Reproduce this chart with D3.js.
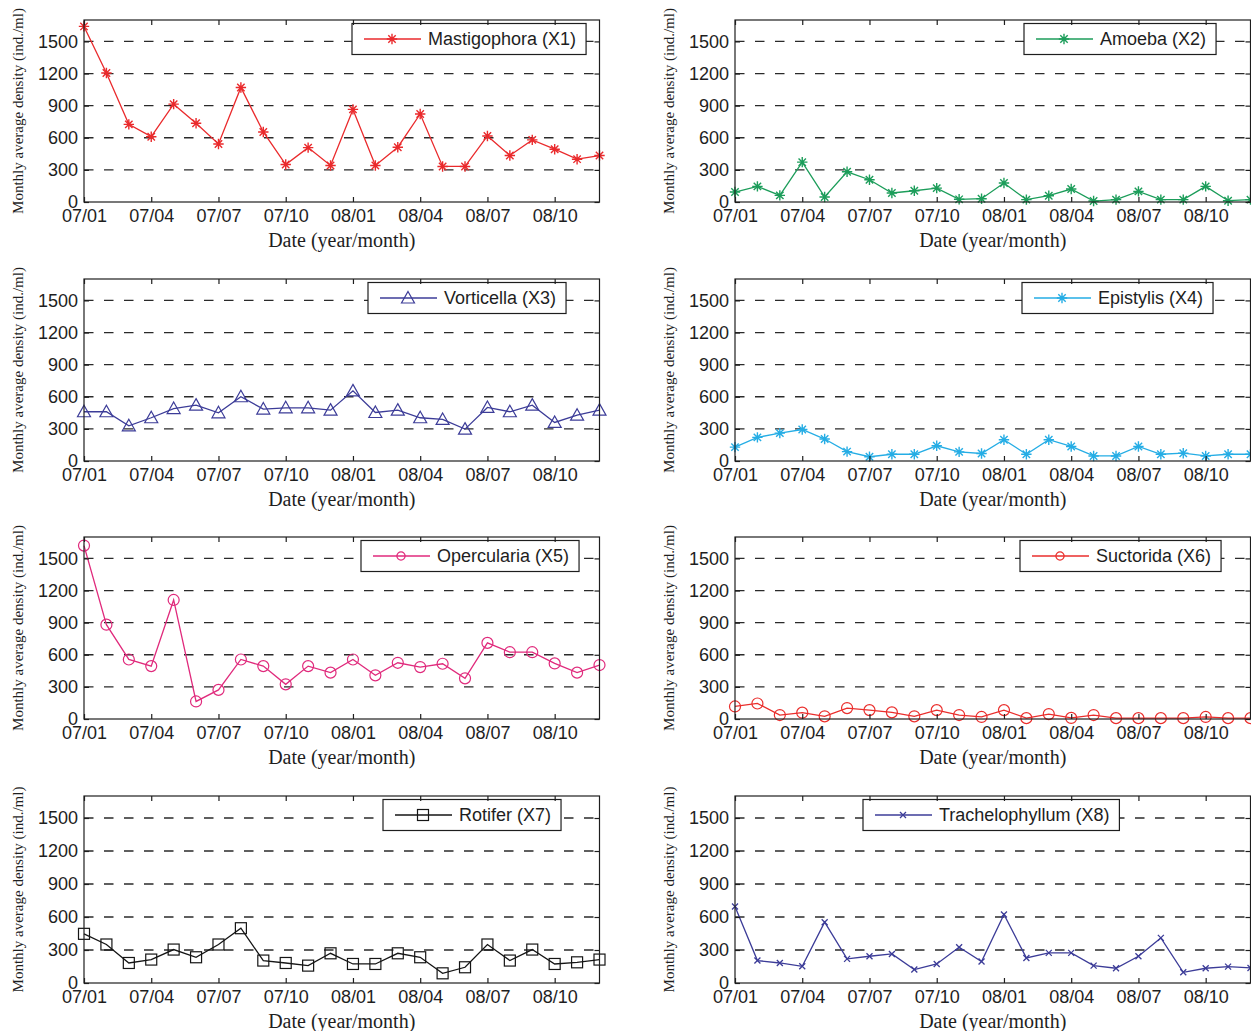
<!DOCTYPE html>
<html>
<head>
<meta charset="utf-8">
<script src="https://cdn.jsdelivr.net/npm/d3@7"></script>
<style>
  body { margin: 0; background: #fff; }
  svg { display: block; }
</style>
</head>
<body>
<svg id="chart" width="1251" height="1031"></svg>
<script>
// Sampling months (year/month), Jul 2007 through Dec 2008
const months = [
  "07/01","07/02","07/03","07/04","07/05","07/06","07/07","07/08","07/09","07/10","07/11","07/12",
  "08/01","08/02","08/03","08/04","08/05","08/06","08/07","08/08","08/09","08/10","08/11","08/12"
];
const tickMonths = ["07/01","07/04","07/07","07/10","08/01","08/04","08/07","08/10"];
const yTicks = [0, 300, 600, 900, 1200, 1500];

// Monthly average density (ind./ml) per taxon
const mastigophora    = [1640,1205,725,610,914,735,542,1070,654,350,508,341,865,341,512,822,332,332,617,434,580,493,400,434];
const amoeba          = [93,146,62,372,47,282,208,84,105,130,25,31,177,22,59,121,9,22,99,22,22,146,12,22];
const vorticella      = [460,460,329,404,490,522,450,600,485,497,497,475,655,453,475,404,388,298,500,460,522,360,428,475];
const epistylis       = [130,221,260,294,205,88,40,63,63,142,85,70,199,63,199,136,47,47,136,63,73,47,63,63];
const opercularia     = [1620,881,556,494,1112,164,272,556,494,324,494,433,556,408,525,485,516,380,711,624,624,519,433,504];
const suctorida       = [117,145,37,59,25,102,83,62,25,83,37,19,83,8,46,10,37,8,8,8,8,19,8,8];
const rotifer         = [447,350,182,213,304,234,350,498,204,182,158,270,173,173,270,234,88,143,350,204,304,173,188,213];
const trachelophyllum = [696,204,182,152,553,219,243,264,122,173,325,195,623,228,274,274,158,134,243,410,97,134,149,137];

const seriesNames = [
  "Mastigophora (X1)", "Amoeba (X2)", "Vorticella (X3)", "Epistylis (X4)",
  "Opercularia (X5)", "Suctorida (X6)", "Rotifer (X7)", "Trachelophyllum (X8)"
];
const seriesValues = [mastigophora, amoeba, vorticella, epistylis, opercularia, suctorida, rotifer, trachelophyllum];

// Styling
const seriesColors  = ["#ea2a2c", "#1c9d5a", "#3c3c98", "#25ade5", "#e02a7c", "#ea2e2c", "#151515", "#3c3c98"];
const seriesMarkers = ["asterisk", "asterisk", "triangle", "asterisk", "circle", "circle", "square", "cross"];

// Layout
const colX = [84, 735];
const rowTop = [20, 279, 537, 796];
const rowH = [182, 182, 182, 187];
const plotW = 515.5;
const legendLeft = [268, 289, 284, 287, 277, 285, 299, 128];
const yMax = 1700;

const sansFont = "'Liberation Sans', Arial, Helvetica, sans-serif";
const serifFont = "'Liberation Serif', 'Times New Roman', serif";
const ink = "#1e1e1e";

const svg = d3.select("#chart");
const x = d3.scalePoint().domain(months).range([0, plotW]);

function drawMarker(sel, type, color, small) {
  const k = small ? 0.75 : 1;
  if (type === "circle") {
    sel.append("circle").attr("r", 5.5 * k)
      .attr("fill", "none").attr("stroke", color).attr("stroke-width", 1.2);
  } else if (type === "square") {
    const s = 5.5;
    sel.append("rect").attr("x", -s).attr("y", -s).attr("width", 2 * s).attr("height", 2 * s)
      .attr("fill", "none").attr("stroke", color).attr("stroke-width", 1.2);
  } else if (type === "triangle") {
    sel.append("path").attr("d", "M0,-6.5L6.5,5L-6.5,5Z")
      .attr("fill", "none").attr("stroke", color).attr("stroke-width", 1.2);
  } else if (type === "asterisk") {
    const r = 5.2, a = 3.7;
    sel.append("path")
      .attr("d", `M${-r},0H${r}M0,${-r}V${r}M${-a},${-a}L${a},${a}M${-a},${a}L${a},${-a}`)
      .attr("fill", "none").attr("stroke", color).attr("stroke-width", 1.4);
  } else if (type === "cross") {
    const r = 3;
    sel.append("path")
      .attr("d", `M${-r},${-r}L${r},${r}M${-r},${r}L${r},${-r}`)
      .attr("fill", "none").attr("stroke", color).attr("stroke-width", 1.3);
  }
}

seriesValues.forEach((values, i) => {
  const col = i % 2, row = Math.floor(i / 2);
  const h = rowH[row];
  const color = seriesColors[i];
  const y = d3.scaleLinear().domain([0, yMax]).range([h, 0]);

  const g = svg.append("g").attr("transform", `translate(${colX[col]},${rowTop[row]})`);

  // dashed horizontal grid
  g.append("g").selectAll("line")
    .data(yTicks.filter(v => v > 0))
    .join("line")
    .attr("x1", 0).attr("x2", plotW)
    .attr("y1", d => y(d)).attr("y2", d => y(d))
    .attr("stroke", "#2a2a2a").attr("stroke-width", 1.3)
    .attr("stroke-dasharray", "9.5,10.5");

  // series line and markers
  const line = d3.line().x((d, j) => x(months[j])).y(d => y(d));
  g.append("path").datum(values)
    .attr("d", line).attr("fill", "none")
    .attr("stroke", color).attr("stroke-width", 1.3);

  g.append("g").selectAll("g")
    .data(values)
    .join("g")
    .attr("transform", (d, j) => `translate(${x(months[j])},${y(d)})`)
    .each(function () { drawMarker(d3.select(this), seriesMarkers[i], color, false); });

  // legend
  const lg = g.append("g").attr("transform", `translate(${legendLeft[i]},3.5)`);
  const rect = lg.append("rect").attr("height", 31)
    .attr("fill", "#fff").attr("stroke", ink).attr("stroke-width", 1.2);
  lg.append("line").attr("x1", 12).attr("x2", 69).attr("y1", 15.5).attr("y2", 15.5)
    .attr("stroke", color).attr("stroke-width", 1.3);
  drawMarker(lg.append("g").attr("transform", "translate(40,15.5)"), seriesMarkers[i], color, true);
  const lt = lg.append("text").attr("x", 76).attr("y", 15.5).attr("dy", "0.36em")
    .attr("font-family", sansFont).attr("font-size", 18).attr("fill", ink)
    .text(seriesNames[i]);
  rect.attr("width", 76 + lt.node().getComputedTextLength() + 10);

  // axes with inward ticks
  const styleAxis = a => {
    a.select(".domain").remove();
    a.selectAll("line").attr("stroke", ink).attr("stroke-width", 1.2);
    a.selectAll("text").attr("font-family", sansFont).attr("font-size", 18).attr("fill", ink);
  };
  g.append("g").attr("transform", `translate(0,${h})`)
    .call(d3.axisBottom(x).tickValues(tickMonths).tickSize(-5).tickSizeOuter(0).tickPadding(7))
    .call(styleAxis);
  g.append("g")
    .call(d3.axisTop(x).tickValues(tickMonths).tickSize(-5).tickSizeOuter(0).tickFormat(""))
    .call(styleAxis);
  g.append("g")
    .call(d3.axisLeft(y).tickValues(yTicks).tickFormat(d3.format("d"))
      .tickSize(-5).tickSizeOuter(0).tickPadding(6))
    .call(styleAxis);
  g.append("g").attr("transform", `translate(${plotW},0)`)
    .call(d3.axisRight(y).tickValues(yTicks).tickSize(-5).tickSizeOuter(0).tickFormat(""))
    .call(styleAxis);

  // frame
  g.append("rect").attr("width", plotW).attr("height", h)
    .attr("fill", "none").attr("stroke", ink).attr("stroke-width", 1.2);

  // axis titles
  g.append("text")
    .attr("x", plotW / 2).attr("y", h + 44.5)
    .attr("text-anchor", "middle")
    .attr("font-family", serifFont).attr("font-size", 20).attr("fill", ink)
    .text("Date (year/month)");
  g.append("text")
    .attr("transform", `translate(-66.5,${h / 2}) rotate(-90)`)
    .attr("dy", "0.35em").attr("text-anchor", "middle")
    .attr("font-family", serifFont).attr("font-size", 15).attr("fill", ink)
    .text("Monthly average density (ind./ml)");
});
</script>
</body>
</html>
